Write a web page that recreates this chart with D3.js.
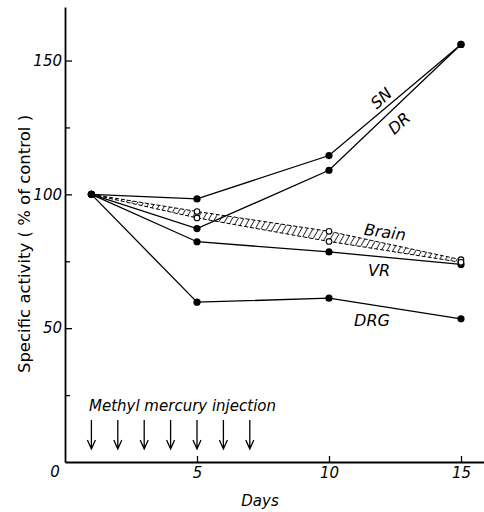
<!DOCTYPE html>
<html>
<head>
<meta charset="utf-8">
<script src="https://cdn.jsdelivr.net/npm/d3@7"></script>
<style>
  body { margin: 0; background: #fff; }
  svg text { font-family: "DejaVu Sans", sans-serif; font-style: italic; fill: #000; }
</style>
</head>
<body>
<div id="chart"></div>
<script>
const days = [1, 5, 10, 15];
const sn = [100, 98.3, 114.5, 156];
const dr = [100, 87.2, 109, 156];
const vr = [100, 82.3, 78.5, 73.8];
const drg = [100, 59.7, 61.2, 53.5];
const brain_upper = [100, 93.6, 86.2, 75.6];
const brain_lower = [100, 91.2, 82.4, 74.6];
const injection_days = [1, 2, 3, 4, 5, 6, 7];
const y_major = [50, 100, 150];
const y_minor = [25, 75, 125];
const x_ticks = [5, 10, 15];

const width = 484, height = 512;

const svg = d3.select("#chart").append("svg")
    .attr("width", width)
    .attr("height", height);

const x = d3.scaleLinear().domain([0, 16]).range([65, 487.4]);
const y = d3.scaleLinear().domain([0, 170]).range([462, 7]);

// hatch for the brain band
const defs = svg.append("defs");
const pat = defs.append("pattern")
    .attr("id", "hatch")
    .attr("patternUnits", "userSpaceOnUse")
    .attr("width", 5)
    .attr("height", 5)
    .attr("patternTransform", "rotate(30)");
pat.append("line")
    .attr("x1", 0).attr("y1", 0).attr("x2", 0).attr("y2", 5)
    .attr("stroke", "#000").attr("stroke-width", 1.6);

// axes
const gx = svg.append("g")
    .attr("transform", `translate(0,${y(0)})`)
    .call(d3.axisBottom(x).tickValues(x_ticks).tickSizeInner(-6).tickSizeOuter(0).tickPadding(5));
const gy = svg.append("g")
    .attr("transform", `translate(${x(0)},0)`)
    .call(d3.axisLeft(y).tickValues(y_major).tickSizeInner(-7).tickSizeOuter(0).tickPadding(3));
const gy2 = svg.append("g")
    .attr("transform", `translate(${x(0)},0)`)
    .call(d3.axisLeft(y).tickValues(y_minor).tickSizeInner(-5).tickSizeOuter(0).tickFormat(""));
gy2.select(".domain").remove();

[gx, gy, gy2].forEach(g => {
    g.select(".domain").attr("stroke-width", 1.8);
    g.selectAll(".tick line").attr("stroke-width", 1.3);
    g.selectAll("text")
        .attr("font-size", 15)
        .style("font-family", "'DejaVu Sans', sans-serif")
        .style("font-style", "italic");
});

svg.append("text")
    .attr("x", x(0) - 10)
    .attr("y", 477)
    .attr("text-anchor", "middle")
    .attr("font-size", 15)
    .text("0");

// brain band
const band = days.map((d, i) => ({ d: d, hi: brain_upper[i], lo: brain_lower[i] }));
svg.append("path")
    .datum(band)
    .attr("fill", "url(#hatch)")
    .attr("stroke", "#000")
    .attr("stroke-width", 1)
    .attr("stroke-dasharray", "4,2")
    .attr("d", d3.area().x(p => x(p.d)).y0(p => y(p.lo)).y1(p => y(p.hi)));

const line = d3.line().x((v, i) => x(days[i])).y(v => y(v));
const series = [sn, dr, vr, drg];
series.forEach(s => {
    svg.append("path")
        .datum(s)
        .attr("fill", "none")
        .attr("stroke", "#000")
        .attr("stroke-width", 1.3)
        .attr("d", line);
    svg.selectAll(null)
        .data(s)
        .enter()
        .append("circle")
        .attr("cx", (v, i) => x(days[i]))
        .attr("cy", v => y(v))
        .attr("r", 3.6)
        .attr("fill", "#000");
});

// open circles for brain
[brain_upper, brain_lower].forEach(s => {
    svg.selectAll(null)
        .data(s.slice(1))
        .enter()
        .append("circle")
        .attr("cx", (v, i) => x(days[i + 1]))
        .attr("cy", v => y(v))
        .attr("r", 2.8)
        .attr("fill", "#fff")
        .attr("stroke", "#000")
        .attr("stroke-width", 1.1);
});

// series labels
const labels = [
    { t: "SN", x: 381, y: 98, r: -42 },
    { t: "DR", x: 399, y: 123, r: -42 },
    { t: "Brain", x: 385, y: 232, r: 8 },
    { t: "VR", x: 379, y: 270, r: 0 },
    { t: "DRG", x: 372, y: 320, r: 0 }
];
svg.selectAll(null)
    .data(labels)
    .enter()
    .append("text")
    .attr("transform", l => `translate(${l.x},${l.y}) rotate(${l.r})`)
    .attr("text-anchor", "middle")
    .attr("dy", "0.36em")
    .attr("font-size", 16)
    .text(l => l.t);

// injection arrows
svg.append("text")
    .attr("x", 89)
    .attr("y", 411)
    .attr("font-size", 15)
    .text("Methyl mercury injection");

svg.selectAll(null)
    .data(injection_days)
    .enter()
    .append("path")
    .attr("fill", "none")
    .attr("stroke", "#000")
    .attr("stroke-width", 1.3)
    .attr("d", d => {
        const cx = x(d);
        return `M${cx},420 V449 M${cx - 4},440 L${cx},449 L${cx + 4},440`;
    });

// axis titles
svg.append("text")
    .attr("x", 260)
    .attr("y", 506)
    .attr("text-anchor", "middle")
    .attr("font-size", 15)
    .text("Days");

svg.append("text")
    .attr("transform", "translate(30,244) rotate(-90)")
    .attr("text-anchor", "middle")
    .attr("font-size", 16.5)
    .style("font-style", "normal")
    .text("Specific activity ( % of control )");
</script>
</body>
</html>
